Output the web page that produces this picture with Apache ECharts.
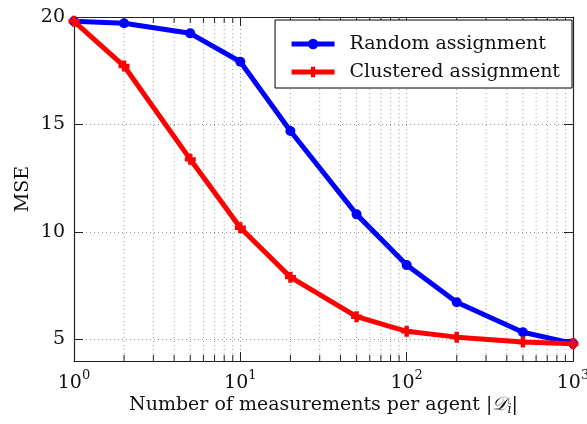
<!DOCTYPE html>
<html>
<head>
<meta charset="utf-8">
<script src="https://cdn.jsdelivr.net/npm/echarts@6/dist/echarts.min.js"></script>
<style>
  html, body { margin: 0; padding: 0; background: #fff; }
  #chart { width: 587px; height: 424px; }
</style>
</head>
<body>
<div id="chart"></div>
<script>
// Measurements per agent (log scale) and resulting MSE
const measurements = [1, 2, 5, 10, 20, 50, 100, 200, 500, 1000];
const randomMSE    = [19.8, 19.71, 19.24, 17.92, 14.7, 10.82, 8.46, 6.73, 5.34, 4.82];
const clusteredMSE = [19.8, 17.72, 13.38, 10.2, 7.9, 6.06, 5.38, 5.11, 4.88, 4.8];
const yTicks = [5, 10, 15, 20];
const xTickExponents = [0, 1, 2, 3];
// minor log ticks 2..9 in each decade
const minorX = [2, 3, 4, 5, 6, 7, 8, 9, 20, 30, 40, 50, 60, 70, 80, 90, 200, 300, 400, 500, 600, 700, 800, 900];

const FONT = 'DejaVu Serif';
const AX = '#222';
const GRID = '#9a9a9a';

const chart = echarts.init(document.getElementById('chart'), null, { renderer: 'canvas' });

const plusPath = 'path://M3,0H7V3H10V7H7V10H3V7H0V3H3Z';

function pair(xs, ys) { return xs.map((x, i) => [x, ys[i]]); }

const option = {
  animation: false,
  backgroundColor: '#fff',
  textStyle: { fontFamily: FONT },
  grid: { left: 74, right: 14, top: 17, height: 344, containLabel: false, outerBoundsMode: 'none' },
  legend: {
    data: ['Random assignment', 'Clustered assignment'],
    orient: 'vertical',
    right: 15,
    top: 20,
    padding: [14, 12, 6, 14],
    itemGap: 8,
    itemWidth: 43,
    itemHeight: 13,
    backgroundColor: '#fff',
    borderColor: '#000',
    borderWidth: 1,
    borderRadius: 0,
    lineStyle: { width: 5 },
    textStyle: { fontFamily: FONT, fontSize: 19, color: '#111', lineHeight: 20, padding: [0, 0, 0, 10] }
  },
  xAxis: [{
    type: 'log',
    logBase: 10,
    min: 1,
    max: 1000,
    name: 'Number of measurements per agent |{cal|𝒟}{sub|i}|',
    nameLocation: 'middle',
    nameGap: 34,
    nameMoveOverlap: false,
    nameTextStyle: {
      fontFamily: FONT, fontSize: 19, color: '#111',
      rich: {
        cal: { fontFamily: FONT, fontSize: 19, fontStyle: 'italic', color: '#111' },
        sub: { fontFamily: FONT, fontSize: 13, fontStyle: 'italic', color: '#111', padding: [8, 0, 0, 0] }
      }
    },
    axisLine: { show: true, lineStyle: { color: AX, width: 1.2 } },
    axisTick: { show: true, inside: true, length: 9, lineStyle: { color: AX, width: 1 } },
    splitLine: { show: true, lineStyle: { color: GRID, type: [1, 3], width: 1 } },
    axisLabel: {
      margin: 8,
      formatter: function (v) {
        const e = Math.round(Math.log10(v));
        const exp = xTickExponents.indexOf(e) >= 0 ? e : '';
        return '{b|10}{s|' + exp + '}';
      },
      rich: {
        b: { fontFamily: FONT, fontSize: 19, color: '#111', lineHeight: 24, verticalAlign: 'bottom' },
        s: { fontFamily: FONT, fontSize: 13, color: '#111', lineHeight: 14, verticalAlign: 'top' }
      }
    }
  }, {
    type: 'log',
    logBase: 10,
    min: 1,
    max: 1000,
    position: 'top',
    axisLine: { show: true, lineStyle: { color: AX, width: 1.2 } },
    axisTick: { show: true, inside: true, length: 9, lineStyle: { color: AX, width: 1 } },
    splitLine: { show: false },
    axisLabel: { show: false }
  }],
  yAxis: [{
    type: 'value',
    min: 4,
    max: 20,
    name: 'MSE',
    nameLocation: 'middle',
    nameGap: 41,
    nameMoveOverlap: false,
    nameRotate: 90,
    nameTextStyle: { fontFamily: FONT, fontSize: 19, color: '#111' },
    axisLine: { show: true, lineStyle: { color: AX, width: 1.2 } },
    axisTick: { show: true, inside: true, length: 9, customValues: yTicks, lineStyle: { color: AX, width: 1 } },
    splitLine: { show: true, lineStyle: { color: GRID, type: [1, 3], width: 1 } },
    axisLabel: { customValues: yTicks, margin: 9, fontFamily: FONT, fontSize: 19, color: '#111' }
  }, {
    type: 'value',
    min: 4,
    max: 20,
    position: 'right',
    axisLine: { show: true, lineStyle: { color: AX, width: 1.2 } },
    axisTick: { show: true, inside: true, length: 9, customValues: yTicks, lineStyle: { color: AX, width: 1 } },
    splitLine: { show: false },
    axisLabel: { show: false }
  }],
  series: [
    {
      // minor log grid lines with small ticks on top and bottom axes
      type: 'custom',
      name: 'minor',
      silent: true,
      z: 1,
      xAxisIndex: 0,
      yAxisIndex: 0,
      data: minorX.map(x => [x, 4]),
      renderItem: function (params, api) {
        const p = api.coord([api.value(0), api.value(1)]);
        const cs = params.coordSys;
        const x = p[0];
        const top = cs.y, bot = cs.y + cs.height;
        return {
          type: 'group',
          children: [
            { type: 'line', shape: { x1: x, y1: top, x2: x, y2: bot },
              style: { stroke: GRID, lineWidth: 1, lineDash: [1, 3] } },
            { type: 'line', shape: { x1: x, y1: bot, x2: x, y2: bot - 6 },
              style: { stroke: AX, lineWidth: 1 } },
            { type: 'line', shape: { x1: x, y1: top, x2: x, y2: top + 6 },
              style: { stroke: AX, lineWidth: 1 } }
          ]
        };
      }
    },
    {
      name: 'Random assignment',
      type: 'line',
      z: 3,
      data: pair(measurements, randomMSE),
      symbol: 'circle',
      symbolSize: 10,
      lineStyle: { color: '#0000ff', width: 5 },
      itemStyle: { color: '#0000ff' },
      color: '#0000ff'
    },
    {
      name: 'Clustered assignment',
      type: 'line',
      z: 4,
      data: pair(measurements, clusteredMSE),
      symbol: plusPath,
      symbolSize: 11,
      lineStyle: { color: '#ff0000', width: 5 },
      itemStyle: { color: '#ff0000' },
      color: '#ff0000'
    }
  ]
};

chart.setOption(option);
</script>
</body>
</html>
